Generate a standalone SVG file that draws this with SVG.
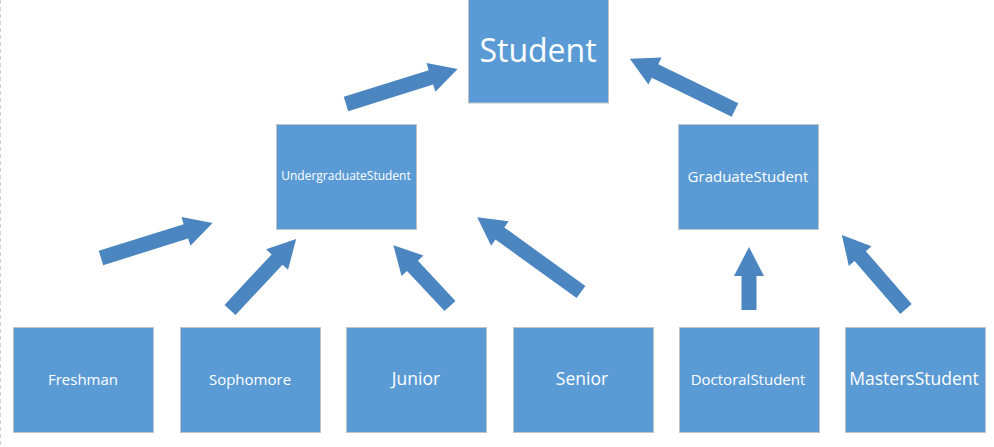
<svg xmlns="http://www.w3.org/2000/svg" width="994" height="447" viewBox="0 0 994 447">
<defs>
<style>
.box{fill:#5b9bd5;stroke:#c0c4c8;stroke-width:1}
.t{fill:#ffffff;font-family:"Open Sans","Noto Sans","Liberation Sans",sans-serif;text-anchor:middle;dominant-baseline:central}
.arr{fill:#4c86c0}
</style>
</defs>
<rect width="994" height="447" fill="#ffffff"/>
<line x1="0.5" y1="0" x2="0.5" y2="447" stroke="#d0d0d0" stroke-width="1" stroke-dasharray="4,3"/>
<g id="student"><rect class="box" x="468.5" y="-1" width="140" height="104"/><text class="t" x="538" y="49" font-size="32">Student</text></g>
<g id="undergraduate"><rect class="box" x="276.5" y="124.5" width="140" height="105"/><text class="t" x="346" y="175" font-size="12">UndergraduateStudent</text></g>
<g id="graduate"><rect class="box" x="678.5" y="124.5" width="140" height="105"/><text class="t" x="748" y="176" font-size="15">GraduateStudent</text></g>
<g id="freshman"><rect class="box" x="13.5" y="327.5" width="140" height="105"/><text class="t" x="83" y="379" font-size="15">Freshman</text></g>
<g id="sophomore"><rect class="box" x="180.5" y="327.5" width="140" height="105"/><text class="t" x="250" y="379" font-size="15">Sophomore</text></g>
<g id="junior"><rect class="box" x="346.5" y="327.5" width="140" height="105"/><text class="t" x="416" y="378" font-size="17.5">Junior</text></g>
<g id="senior"><rect class="box" x="513.5" y="327.5" width="140" height="105"/><text class="t" x="582" y="378" font-size="17.5">Senior</text></g>
<g id="doctoral"><rect class="box" x="679.5" y="327.5" width="140" height="105"/><text class="t" x="748" y="379" font-size="15">DoctoralStudent</text></g>
<g id="masters"><rect class="box" x="845.5" y="327.5" width="140" height="105"/><text class="t" x="914" y="378" font-size="17.5">MastersStudent</text></g>
<g id="connectors">
<polygon class="arr" transform="translate(346,104) rotate(-17.4)" points="0,-7.5 89,-7.5 89,-15 117,0 89,15 89,7.5 0,7.5"/>
<polygon class="arr" transform="translate(735,110) rotate(-154)" points="0,-7.5 89,-7.5 89,-15 117,0 89,15 89,7.5 0,7.5"/>
<polygon class="arr" transform="translate(101,258) rotate(-17.4)" points="0,-7.5 89,-7.5 89,-15 117,0 89,15 89,7.5 0,7.5"/>
<polygon class="arr" transform="translate(230,310) rotate(-47)" points="0,-7.5 69,-7.5 69,-15 97,0 69,15 69,7.5 0,7.5"/>
<polygon class="arr" transform="translate(450,306) rotate(-133)" points="0,-7.5 55,-7.5 55,-15 83,0 55,15 55,7.5 0,7.5"/>
<polygon class="arr" transform="translate(581,292) rotate(-144.2)" points="0,-7.5 100,-7.5 100,-15 128,0 100,15 100,7.5 0,7.5"/>
<polygon class="arr" transform="translate(749,310) rotate(-90)" points="0,-7.5 34,-7.5 34,-15 63,0 34,15 34,7.5 0,7.5"/>
<polygon class="arr" transform="translate(906,309) rotate(-130.9)" points="0,-7.5 70,-7.5 70,-15 98,0 70,15 70,7.5 0,7.5"/>
</g>
</svg>
